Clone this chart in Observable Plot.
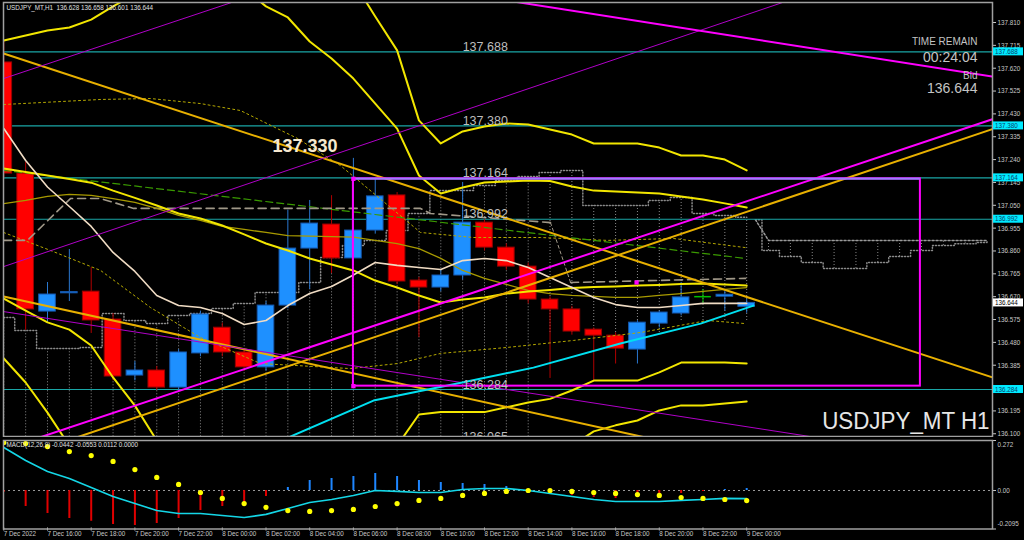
<!DOCTYPE html>
<html><head><meta charset="utf-8">
<script src="https://cdn.jsdelivr.net/npm/d3@7"></script>
<script src="https://cdn.jsdelivr.net/npm/@observablehq/plot@0.6"></script>
<style>
html,body{margin:0;padding:0;background:#000;width:1024px;height:540px;overflow:hidden;}
#wrap{position:relative;width:1024px;height:540px;background:#000;}
#wrap svg{position:absolute;left:0;}
</style></head>
<body><div id="wrap"></div>
<script>
// ---------- DATA ----------
const hours = [14,15,16,17,18,19,20,21,22,23,24,25,26,27,28,29,30,31,32,33,34,35,36,37,38,39,40,41,42,43,44,45,46,47,48];
const opens  = [137.644,137.182,136.608,136.684,136.691,136.575,136.342,136.363,136.292,136.434,136.541,136.438,136.376,136.633,136.870,136.970,136.829,136.945,137.091,136.737,136.708,136.758,136.978,136.874,136.795,136.658,136.617,136.533,136.508,136.450,136.558,136.600,136.670,136.670,136.628];
const highs  = [137.735,137.230,136.729,136.866,136.791,136.600,136.400,136.380,136.450,136.610,136.560,136.450,136.650,137.030,137.070,137.090,137.245,137.160,137.103,136.750,136.780,137.145,136.990,136.890,136.810,136.670,136.630,136.540,136.520,136.570,136.610,136.729,136.700,136.700,136.658];
const lows   = [137.160,136.530,136.560,136.650,136.517,136.320,136.320,136.280,136.280,136.420,136.420,136.360,136.360,136.620,136.700,136.766,136.800,136.930,136.720,136.500,136.690,136.740,136.860,136.780,136.640,136.330,136.510,136.320,136.390,136.390,136.540,136.590,136.640,136.610,136.601];
const closes = [137.182,136.617,136.679,136.689,136.571,136.338,136.363,136.292,136.438,136.596,136.438,136.376,136.633,136.870,136.974,136.829,136.945,137.087,136.733,136.708,136.758,136.978,136.874,136.795,136.658,136.617,136.525,136.508,136.454,136.562,136.604,136.667,136.670,136.678,136.644];

const maBeige = [137.369,137.236,137.126,137.045,136.962,136.854,136.775,136.675,136.633,136.625,136.600,136.554,136.571,136.633,136.683,136.712,136.760,136.812,136.800,136.791,136.783,136.820,136.829,136.820,136.791,136.750,136.708,136.667,136.637,136.625,136.625,136.633,136.642,136.642,136.642];
const bandUpperA = [137.735,137.756,137.777,137.789,137.822,137.877,137.927,137.970,138.000,138.000,137.980,137.951,137.877,137.831,137.731,137.660,137.577,137.473,137.369,137.174,137.099,137.124,137.145,137.149,137.153,137.151,137.128,137.111,137.107,137.103,137.099,137.087,137.074,137.058,137.041];
const bandMidA = [137.203,137.188,137.174,137.159,137.144,137.111,137.081,137.049,137.016,136.995,136.966,136.929,136.891,136.862,136.829,136.804,136.779,136.737,136.708,136.675,136.646,136.658,136.667,136.683,136.692,136.698,136.706,136.710,136.712,136.716,136.719,136.723,136.725,136.721,136.716];
const bandLowerA = [136.662,136.612,136.563,136.533,136.467,136.334,136.217,136.072,135.990,135.950,135.930,135.910,135.900,135.890,135.930,135.950,135.980,136.000,136.050,136.180,136.190,136.190,136.190,136.210,136.230,136.245,136.280,136.321,136.321,136.321,136.355,136.396,136.396,136.396,136.392];
const bandUpperBHours = [29,30,31,32,33,34,35,36,37,38,39,40,41,42,43,44,45,46,47,48];
const bandUpperB = [138.100,137.980,137.835,137.694,137.403,137.307,137.357,137.378,137.390,137.386,137.365,137.344,137.307,137.307,137.307,137.290,137.257,137.257,137.240,137.195];
const bandMidB = [137.057,137.070,137.087,137.095,137.091,137.078,137.062,137.037,137.008,136.987,136.962,136.950,136.937,136.924,136.922,136.920,136.918,136.904,136.891,136.870,136.829,136.779,136.746,136.721,136.696,136.683,136.675,136.671,136.667,136.667,136.675,136.683,136.692,136.700,136.708];
const bandLowerBLeftHours = [14,15,16,17,18];
const bandLowerBLeft = [136.413,136.313,136.188,136.050,135.950];
const bandLowerBRightHours = [38,39,40,41,42,43,44,45,46,47,48];
const bandLowerBRight = [135.980,136.020,136.050,136.110,136.135,136.155,136.197,136.218,136.218,136.226,136.234];

const dotYellow1Hours = [13.99,18.43,20.71,23.0,24.83,25.75,27.44,29.41,33.07,35.50,38.56,41.63,44.65,47.95];
const dotYellow1 = [137.469,137.490,137.494,137.473,137.444,137.403,137.328,137.215,136.937,136.916,136.916,136.904,136.912,136.874];
const dotYellow2Hours = [13.99,16.14,18.43,20.71,23.0,25.75,29.87,32.02,33.99,37.05,40.07,43.14,46.21,47.95];
const dotYellow2 = [136.937,136.862,136.779,136.625,136.500,136.392,136.371,136.392,136.434,136.459,136.488,136.521,136.571,136.558];

const grayDash1Hours = [13.99,15.08,17.05,18.43,19.94,33.07,33.53,39.02];
const grayDash1 = [136.904,136.904,137.078,137.078,137.037,137.037,137.016,136.978];
const grayLinkHours = [39.02,39.94];
const grayLink = [136.978,136.729];
const grayDash2Hours = [39.94,47.95];
const grayDash2 = [136.729,136.746];
const greenDashHours = [13.99,47.95];
const greenDash = [137.195,136.829];

const cloudTop = [136.583,136.529,136.454,136.454,136.459,136.600,136.571,136.558,136.592,136.600,136.621,136.642,136.687,136.687,136.729,136.833,136.883,136.904,136.945,137.016,137.111,137.111,137.132,137.153,137.170,137.186,137.195,137.049,137.049,137.049,137.070,137.082,137.016,137.008,137.000];
const cloudBottom = [136.05,136.05,136.05,136.05,136.05,136.05,136.05,136.05,136.05,136.05,136.05,136.05,136.05,136.05,136.05,136.05,136.05,136.05,136.05,136.05,136.05,136.05,136.05,136.05,136.05,136.521,136.521,136.521,136.521,136.521,136.521,136.571,136.571,136.571,136.571];
const futureHours = [48.4,49,50,51,52,53,54,55,56,57,58,59];
const futureTop = [136.990,136.904,136.904,136.904,136.904,136.904,136.904,136.904,136.904,136.904,136.904,136.904];
const futureBottom = [136.990,136.862,136.837,136.812,136.787,136.787,136.812,136.837,136.862,136.883,136.890,136.895];

const cyanRiseHours = [26.4,30.92,34.76,38.24,42.22,45.89,48.31];
const cyanRise = [136.060,136.238,136.309,136.375,136.475,136.558,136.633];

// straight trend lines: [hourStart, hourEnd], [priceStart, priceEnd]
const orangeDownH = [13.99,59.25], orangeDownP = [137.681,136.334];
const orangeUpH = [16.0,59.25], orangeUpP = [136.044,137.367];
const orangeLowH = [13.99,45.0], orangeLowP = [136.671,136.052];
const magentaUpH = [14.5,59.25], magentaUpP = [136.050,137.408];
const magentaTopH = [37.0,59.25], magentaTopP = [137.902,137.585];
const purple1H = [13.99,51.0], purple1P = [136.795,137.935];
const purple2H = [13.99,24.70], purple2P = [137.577,137.9015];
const purple3H = [13.99,52.0], purple3P = [136.608,136.073];

const levels = [137.688,137.380,137.164,136.992,136.284];
const levelTexts = [137.688,137.380,137.164,136.992,136.284,136.065];
const rectBox = {h1:30, h2:55.95, p1:136.298, p2:137.160};
const anchorsH = [30,30,42.96];
const anchorsP = [137.160,136.298,136.729];
const highMark = 137.330;
const bidPrice = 136.644;

const yTicks = [137.810,137.715,137.620,137.525,137.430,137.335,137.240,137.145,137.050,136.955,136.860,136.765,136.670,136.575,136.480,136.385,136.195,136.100];
const xTickHours = [14,16,18,20,22,24,26,28,30,32,34,36,38,40,42,44,46,48];
const xTickLabels = ["7 Dec 2022","7 Dec 16:00","7 Dec 18:00","7 Dec 20:00","7 Dec 22:00","8 Dec 00:00","8 Dec 02:00","8 Dec 04:00","8 Dec 06:00","8 Dec 08:00","8 Dec 10:00","8 Dec 12:00","8 Dec 14:00","8 Dec 16:00","8 Dec 18:00","8 Dec 20:00","8 Dec 22:00","9 Dec 00:00"];

const macdMain = [0.234,0.163,0.103,0.065,0.016,-0.033,-0.071,-0.109,-0.125,-0.125,-0.136,-0.147,-0.130,-0.098,-0.065,-0.049,-0.027,0.000,-0.005,-0.011,-0.011,0.005,0.011,0.011,0.000,-0.016,-0.033,-0.049,-0.060,-0.060,-0.060,-0.054,-0.049,-0.043,-0.044];
const macdSignal = [0.261,0.255,0.239,0.212,0.190,0.158,0.114,0.071,0.033,-0.011,-0.043,-0.071,-0.092,-0.109,-0.114,-0.109,-0.103,-0.087,-0.071,-0.054,-0.043,-0.027,-0.016,-0.005,0.000,0.000,-0.005,-0.011,-0.016,-0.022,-0.027,-0.038,-0.043,-0.049,-0.055];
const macdHist = [-0.010,-0.087,-0.125,-0.152,-0.168,-0.185,-0.190,-0.179,-0.152,-0.109,-0.087,-0.071,-0.033,0.016,0.054,0.065,0.076,0.092,0.076,0.054,0.043,0.038,0.033,0.022,0.000,-0.016,-0.027,-0.038,-0.044,-0.038,-0.027,-0.016,-0.005,0.005,0.011];
const macdTicks = [0.272,0,-0.2095];
const macdTickTexts = ["0.272","0.00","-0.2095"];

const headerText = "USDJPY_MT,H1  136.628 136.658 136.601 136.644";
const macdHeader = "MACD(12,26,9) -0.0442 -0.0553 0.0112 0.0000";
const watermark = "USDJPY_MT H1";

// ---------- BUILD ----------
const ser = (hs, ps) => hs.map((h,i)=>({h, p:ps[i]}));
const candles = hours.map((h,i)=>({h, o:opens[i], hi:highs[i], lo:lows[i], c:closes[i]}));
const kind = d => d.c > d.o ? "up" : d.c < d.o ? "down" : "flat";
const bodyFill = {up:"#1e90ff", down:"#ff0000", flat:"#00c000"};
const bodyEdge = {up:"#1659b0", down:"#9a0000", flat:"#00c000"};
const wickCol = {up:"#2a78d0", down:"#b00000", flat:"#00c000"};
const cloud = hours.map((h,i)=>({h, top:cloudTop[i], bot:cloudBottom[i]}));
const future = futureHours.map((h,i)=>({h, top:futureTop[i], bot:futureBottom[i]}));
const half = 0.38;
const xDomain = [13.986, 59.25];
const font = "'Liberation Sans', Arial, sans-serif";
const SMALL = 7.5;

const L = (hs, ps, o) => Plot.line(ser(hs, ps), {x:"h", y:"p", clip:true, ...o});
const YEL = "#f2e600", ORG = "#e8b000";

const main = Plot.plot({
  width:1024, height:437, marginLeft:3, marginRight:32, marginTop:2, marginBottom:1,
  style:{background:"#000", color:"#c8c8c8", fontFamily:font, fontSize:"8px", overflow:"visible"},
  x:{domain:xDomain, axis:null},
  y:{domain:[136.0886,137.8932], axis:null},
  color:{type:"identity"},
  marks:[
    // gray dotted "cloud"
    Plot.ruleX(cloud, {x:"h", y1:"bot", y2:"top", stroke:"#8a8a8a", strokeWidth:1, strokeDasharray:"1,2", clip:true}),
    Plot.line(cloud, {x:"h", y:"top", curve:"step", stroke:"#8a8a8a", strokeDasharray:"1,2", clip:true}),
    Plot.ruleX(future.slice(1), {x:"h", y1:"bot", y2:"top", stroke:"#8a8a8a", strokeDasharray:"1,2", clip:true}),
    Plot.line(future, {x:"h", y:"top", stroke:"#9a9a9a", strokeDasharray:"2,2", clip:true}),
    Plot.line(future, {x:"h", y:"bot", curve:"step", stroke:"#8a8a8a", strokeDasharray:"1,2", clip:true}),
    // horizontal levels
    Plot.ruleY(levels, {stroke:"#1aa6a6", strokeWidth:1.2}),
    // candles
    Plot.ruleX(candles, {x:"h", y1:"lo", y2:"hi", stroke:d=>wickCol[kind(d)], strokeWidth:1, clip:true}),
    Plot.rect(candles.filter(d=>kind(d)!=="flat"), {x1:d=>d.h-half, x2:d=>d.h+half, y1:d=>Math.min(d.o,d.c), y2:d=>Math.max(d.o,d.c), fill:d=>bodyFill[kind(d)], stroke:d=>bodyEdge[kind(d)], strokeWidth:1, clip:true}),
    Plot.ruleY(candles.filter(d=>kind(d)==="flat"), {y:"c", x1:d=>d.h-half, x2:d=>d.h+half, stroke:"#00c000", strokeWidth:1.5}),
    // indicator lines
    L(dotYellow1Hours, dotYellow1, {stroke:"#b5a800", strokeWidth:1, strokeDasharray:"2,3"}),
    L(dotYellow2Hours, dotYellow2, {stroke:"#b5a800", strokeWidth:1, strokeDasharray:"2,3"}),
    L(greenDashHours, greenDash, {stroke:"#3a9a00", strokeWidth:1.2, strokeDasharray:"7,4"}),
    L(grayDash1Hours, grayDash1, {stroke:"#a09888", strokeWidth:1.6, strokeDasharray:"8,5"}),
    L(grayLinkHours, grayLink, {stroke:"#a09888", strokeWidth:1, strokeDasharray:"3,3"}),
    L(grayDash2Hours, grayDash2, {stroke:"#a09888", strokeWidth:1.6, strokeDasharray:"8,5"}),
    L(hours, bandMidB, {stroke:"#a89a00", strokeWidth:1.3}),
    L(hours, bandUpperA, {stroke:YEL, strokeWidth:2}),
    L(hours, bandMidA, {stroke:YEL, strokeWidth:2}),
    L(hours, bandLowerA, {stroke:YEL, strokeWidth:2}),
    L(bandUpperBHours, bandUpperB, {stroke:YEL, strokeWidth:2}),
    L(bandLowerBLeftHours, bandLowerBLeft, {stroke:YEL, strokeWidth:2}),
    L(bandLowerBRightHours, bandLowerBRight, {stroke:YEL, strokeWidth:2}),
    L(hours, maBeige, {stroke:"#f0dcc4", strokeWidth:1.6}),
    // trend lines
    L(orangeDownH, orangeDownP, {stroke:ORG, strokeWidth:2}),
    L(orangeUpH, orangeUpP, {stroke:ORG, strokeWidth:2}),
    L(orangeLowH, orangeLowP, {stroke:ORG, strokeWidth:2}),
    L(purple1H, purple1P, {stroke:"#b000c8", strokeWidth:1}),
    L(purple2H, purple2P, {stroke:"#b000c8", strokeWidth:1}),
    L(purple3H, purple3P, {stroke:"#b000c8", strokeWidth:1}),
    L(magentaUpH, magentaUpP, {stroke:"#ff00ff", strokeWidth:2}),
    L(magentaTopH, magentaTopP, {stroke:"#ff00ff", strokeWidth:2}),
    L(cyanRiseHours, cyanRise, {stroke:"#00e0f0", strokeWidth:2}),
    // rectangle
    Plot.rect([rectBox], {x1:"h1", x2:"h2", y1:"p1", y2:"p2", stroke:"#ff00ff", strokeWidth:2, fill:"none", clip:true}),
    Plot.ruleY([rectBox], {y:"p2", x1:"h1", x2:"h2", stroke:"#9c7cff", strokeWidth:2}),
    Plot.dot(ser(anchorsH, anchorsP), {x:"h", y:"p", symbol:"square", r:2.4, fill:"#ff00ff"}),
    // texts
    Plot.text(levelTexts, {x:()=>35, y:d=>d, text:d=>d.toFixed(3), textAnchor:"start", lineAnchor:"bottom", dy:-1, fontSize:12.5, fill:"#bdbdbd", clip:true}),
    Plot.text([highMark], {x:()=>26.3, y:d=>d, text:d=>d.toFixed(3), textAnchor:"start", lineAnchor:"top", dy:1, fontSize:18, fontWeight:"bold", fill:"#f6e8d0"}),
    Plot.text([headerText], {frameAnchor:"top-left", dx:3, dy:5, textAnchor:"start", lineAnchor:"middle", fontSize:SMALL, fill:"#e0e0e0"}),
    Plot.text(["TIME REMAIN"], {frameAnchor:"top-right", dx:-15, dy:39, textAnchor:"end", lineAnchor:"middle", fontSize:10, fill:"#c4c4c4"}),
    Plot.text(["00:24:04"], {frameAnchor:"top-right", dx:-15, dy:55, textAnchor:"end", lineAnchor:"middle", fontSize:14, fill:"#c4c4c4"}),
    Plot.text(["Bid"], {frameAnchor:"top-right", dx:-15, dy:73, textAnchor:"end", lineAnchor:"middle", fontSize:10, fill:"#c4c4c4"}),
    Plot.text([bidPrice], {frameAnchor:"top-right", dx:-15, dy:86, text:d=>d.toFixed(3), textAnchor:"end", lineAnchor:"middle", fontSize:14, fill:"#c4c4c4"}),
    Plot.text([watermark], {frameAnchor:"bottom-right", dx:-3, dy:-15, textAnchor:"end", lineAnchor:"middle", fontSize:23.3, fill:"#e6e6e6"}),
    // axis + frame
    Plot.axisY(yTicks, {anchor:"right", label:null, tickSize:3, tickPadding:2, tickFormat:d=>d.toFixed(3), fontSize:SMALL, fill:"#c8c8c8", stroke:"#c8c8c8"}),
    Plot.frame({stroke:"#a0a0a0", strokeWidth:1.5})
  ]
});

const macdData = hours.map((h,i)=>({h, m:macdMain[i], s:macdSignal[i], v:macdHist[i]}));
const tickLabel = new Map(xTickHours.map((h,i)=>[h, xTickLabels[i]]));
const mTick = (i, dy) => Plot.text([macdTicks[i]], {y:d=>d, frameAnchor:"right", dx:5, dy, text:()=>macdTickTexts[i], textAnchor:"start", fontSize:SMALL, fill:"#c8c8c8"});
const macd = Plot.plot({
  width:1024, height:103, marginLeft:3, marginRight:32, marginTop:3, marginBottom:11.5,
  style:{background:"#000", color:"#c8c8c8", fontFamily:font, fontSize:"8px", overflow:"visible"},
  x:{domain:xDomain, axis:null},
  y:{domain:[-0.2095,0.272], axis:null},
  color:{type:"identity"},
  marks:[
    Plot.ruleY([0], {stroke:"#9a9a9a", strokeDasharray:"2,3"}),
    Plot.ruleX(macdData, {x:"h", y1:()=>0, y2:"v", stroke:d=>d.v>=0?"#1e86ff":"#e00000", strokeWidth:2, clip:true}),
    Plot.line(macdData, {x:"h", y:"m", stroke:"#14d6e6", strokeWidth:1.6, clip:true}),
    Plot.dot(macdData, {x:"h", y:"s", r:2.6, fill:"#ffff00", clip:true}),
    Plot.text([macdHeader], {frameAnchor:"top-left", dx:3, dy:4, textAnchor:"start", lineAnchor:"middle", fontSize:SMALL, fill:"#e0e0e0"}),
    Plot.axisX(xTickHours, {anchor:"bottom", label:null, tickSize:3, tickPadding:0, dy:-1, textAnchor:"start", tickFormat:d=>tickLabel.get(d), fontSize:SMALL, fill:"#c8c8c8", stroke:"#c8c8c8"}),
    Plot.axisY(macdTicks, {anchor:"right", label:null, tickSize:3, tickFormat:()=>"", stroke:"#c8c8c8"}),
    mTick(0, 4), mTick(1, 0), mTick(2, -5),
    Plot.frame({stroke:"#a0a0a0", strokeWidth:1.5})
  ]
});

const wrap = document.getElementById("wrap");
main.style.top = "0px";
macd.style.top = "437px";
wrap.appendChild(main);
wrap.appendChild(macd);

// price boxes on the right scale, placed through the y scale
const ys = main.scale("y"), xs = main.scale("x");
const gx = xs.range[1] + 1;
const g = d3.select(main).append("g").attr("font-family", font).attr("font-size", SMALL).attr("text-anchor", "start");
const box = (v, bg, fg) => {
  const y = ys.apply(v);
  g.append("rect").attr("x", gx).attr("y", y-4).attr("width", 30).attr("height", 8).attr("fill", bg);
  g.append("text").attr("x", gx+2).attr("y", y).attr("dy", "0.35em").attr("text-anchor", "start").attr("fill", fg).text(v.toFixed(3));
};
levels.forEach(v => box(v, "#00eaff", "#0a3e6a"));
box(bidPrice, "#ffffff", "#000000");

// horizontally condense MT4-style texts (anchors converted to start so boxes stay exact)
function squeeze(svg){
  svg.querySelectorAll("text").forEach(t => {
    const cs = getComputedStyle(t);
    const fs = parseFloat(cs.fontSize);
    const f = fs <= 9 ? 0.84 : (t.textContent === watermark ? 0.96 : 1);
    if (f === 1) return;
    const len = t.getComputedTextLength();
    if (!(len > 0)) return;
    const target = len * f;
    const anchor = cs.textAnchor;
    const x0 = parseFloat(t.getAttribute("x") || "0");
    let x = x0;
    if (anchor === "end") x = x0 - target;
    else if (anchor === "middle") x = x0 - target / 2;
    t.setAttribute("x", x);
    t.setAttribute("text-anchor", "start");
    t.style.textAnchor = "start";
    t.setAttribute("textLength", target);
    t.setAttribute("lengthAdjust", "spacingAndGlyphs");
  });
}
squeeze(main); squeeze(macd);
</script></body></html>
